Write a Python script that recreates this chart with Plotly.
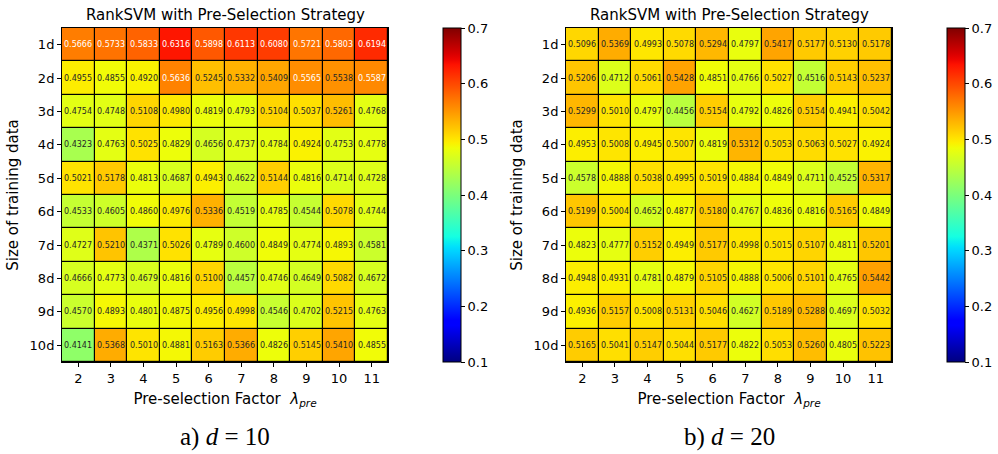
import plotly.graph_objects as go
import numpy as np

factors = ["2", "3", "4", "5", "6", "7", "8", "9", "10", "11"]
sizes = ["1d", "2d", "3d", "4d", "5d", "6d", "7d", "8d", "9d", "10d"]

vals_d10 = [
    [0.5666, 0.5733, 0.5833, 0.6316, 0.5898, 0.6113, 0.6080, 0.5721, 0.5803, 0.6194],
    [0.4955, 0.4855, 0.4920, 0.5636, 0.5245, 0.5332, 0.5409, 0.5565, 0.5538, 0.5587],
    [0.4754, 0.4748, 0.5108, 0.4980, 0.4819, 0.4793, 0.5104, 0.5037, 0.5261, 0.4768],
    [0.4323, 0.4763, 0.5025, 0.4829, 0.4656, 0.4737, 0.4784, 0.4924, 0.4753, 0.4778],
    [0.5021, 0.5178, 0.4813, 0.4687, 0.4943, 0.4622, 0.5144, 0.4816, 0.4714, 0.4728],
    [0.4533, 0.4605, 0.4860, 0.4976, 0.5336, 0.4519, 0.4785, 0.4544, 0.5078, 0.4744],
    [0.4727, 0.5210, 0.4371, 0.5026, 0.4789, 0.4600, 0.4849, 0.4774, 0.4893, 0.4581],
    [0.4666, 0.4773, 0.4679, 0.4816, 0.5100, 0.4457, 0.4746, 0.4649, 0.5082, 0.4672],
    [0.4570, 0.4893, 0.4801, 0.4875, 0.4956, 0.4998, 0.4546, 0.4702, 0.5215, 0.4763],
    [0.4141, 0.5368, 0.5010, 0.4881, 0.5163, 0.5366, 0.4826, 0.5145, 0.5410, 0.4855],
]

vals_d20 = [
    [0.5096, 0.5369, 0.4993, 0.5078, 0.5294, 0.4797, 0.5417, 0.5177, 0.5130, 0.5178],
    [0.5206, 0.4712, 0.5061, 0.5428, 0.4851, 0.4766, 0.5027, 0.4516, 0.5143, 0.5237],
    [0.5299, 0.5010, 0.4797, 0.4456, 0.5154, 0.4792, 0.4826, 0.5154, 0.4941, 0.5042],
    [0.4953, 0.5008, 0.4945, 0.5007, 0.4819, 0.5312, 0.5053, 0.5063, 0.5027, 0.4924],
    [0.4578, 0.4888, 0.5038, 0.4995, 0.5019, 0.4884, 0.4849, 0.4711, 0.4525, 0.5317],
    [0.5199, 0.5004, 0.4652, 0.4877, 0.5180, 0.4767, 0.4836, 0.4816, 0.5165, 0.4849],
    [0.4823, 0.4777, 0.5152, 0.4949, 0.5177, 0.4998, 0.5015, 0.5107, 0.4811, 0.5201],
    [0.4948, 0.4931, 0.4781, 0.4879, 0.5105, 0.4888, 0.5006, 0.5101, 0.4765, 0.5442],
    [0.4936, 0.5157, 0.5008, 0.5131, 0.5046, 0.4627, 0.5189, 0.5288, 0.4697, 0.5032],
    [0.5165, 0.5041, 0.5147, 0.5044, 0.5177, 0.4822, 0.5053, 0.5260, 0.4805, 0.5223],
]

titles = ["RankSVM with Pre-Selection Strategy", "RankSVM with Pre-Selection Strategy"]
captions = ["a) <i>d</i> = 10", "b) <i>d</i> = 20"]

# matplotlib 'jet' colormap
def jet_seg(x, pts):
    xs = [p[0] for p in pts]; ys = [p[1] for p in pts]
    return float(np.interp(x, xs, ys))

R = [(0, 0), (0.35, 0), (0.66, 1), (0.89, 1), (1, 0.5)]
G = [(0, 0), (0.125, 0), (0.375, 1), (0.64, 1), (0.91, 0), (1, 0)]
B = [(0, 0.5), (0.11, 1), (0.34, 1), (0.65, 0), (1, 0)]
jet = []
for t in np.linspace(0, 1, 65):
    r, g, b = (int(round(255 * jet_seg(t, s))) for s in (R, G, B))
    jet.append([float(t), f"rgb({r},{g},{b})"])

W, H = 998, 454
FONT = "DejaVu Sans"
xdom = [[62 / W, 388 / W], [566 / W, 892 / W]]
ydom = [1 - 362 / H, 1 - 28 / H]
cbx = [443 / W, 947 / W]

fig = go.Figure()
annotations = []
for k, data in enumerate([vals_d10, vals_d20]):
    xa = "x" if k == 0 else "x2"
    ya = "y" if k == 0 else "y2"
    fig.add_trace(go.Heatmap(
        z=data, x=factors, y=sizes, xaxis=xa, yaxis=ya,
        colorscale=jet, zmin=0.1, zmax=0.7, xgap=1.2, ygap=1.2,
        hoverinfo="skip",
        colorbar=dict(
            x=cbx[k], xanchor="left", y=ydom[1], yanchor="top",
            len=ydom[1] - ydom[0], lenmode="fraction", thickness=18,
            outlinecolor="black", outlinewidth=1,
            tickvals=[0.1, 0.2, 0.3, 0.4, 0.5, 0.6, 0.7],
            ticks="outside", ticklen=4, tickcolor="black",
            tickfont=dict(family=FONT, size=13, color="black"),
            ypad=0, xpad=0,
        ),
    ))
    for i, row in enumerate(data):
        for j, v in enumerate(row):
            annotations.append(dict(
                x=j, y=i, xref=xa, yref=ya,
                text=f"{v:.4f}", showarrow=False,
                font=dict(family=FONT, size=8,
                          color="white" if v > 0.555 else "#262626"),
            ))
    xc = (xdom[k][0] + xdom[k][1]) / 2
    annotations.append(dict(
        x=xc, y=1 - 15 / H, xref="paper", yref="paper", text=titles[k],
        xanchor="center", yanchor="middle",
        showarrow=False, font=dict(family=FONT, size=15, color="black"),
    ))
    annotations.append(dict(
        x=xc, y=1 - 437 / H, xref="paper", yref="paper", text=captions[k],
        xanchor="center", yanchor="middle",
        showarrow=False, font=dict(family="Liberation Serif", size=25, color="black"),
    ))

axis_common = dict(
    showline=True, linecolor="black", linewidth=1, mirror=True, automargin=False,
    ticks="outside", ticklen=4, tickcolor="black", showgrid=False, zeroline=False,
    tickfont=dict(family=FONT, size=13, color="black"),
)
xt = dict(text="Pre-selection Factor  <i>λ</i><sub><i>pre</i></sub>",
          font=dict(family=FONT, size=15, color="black"), standoff=8)
yt = dict(text="Size of training data", font=dict(family=FONT, size=15, color="black"), standoff=7)

fig.update_layout(
    width=W, height=H, margin=dict(l=0, r=0, t=0, b=0, autoexpand=False),
    paper_bgcolor="white", plot_bgcolor="black",
    xaxis=dict(domain=xdom[0], anchor="y", type="category", range=[-0.5, 9.5], title=xt, **axis_common),
    yaxis=dict(domain=ydom, anchor="x", type="category", range=[9.5, -0.5], title=yt, **axis_common),
    xaxis2=dict(domain=xdom[1], anchor="y2", type="category", range=[-0.5, 9.5], title=xt, **axis_common),
    yaxis2=dict(domain=ydom, anchor="x2", type="category", range=[9.5, -0.5], title=yt, **axis_common),
    annotations=annotations,
    showlegend=False,
)

fig.write_html("out.html")
